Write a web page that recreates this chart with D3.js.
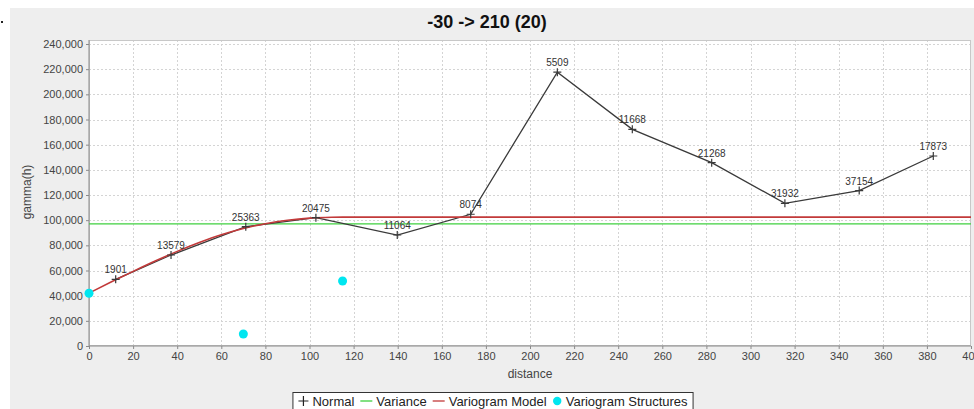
<!DOCTYPE html>
<html>
<head>
<meta charset="utf-8">
<script src="https://cdn.jsdelivr.net/npm/d3@7"></script>
<style>
  html, body { margin: 0; padding: 0; background: #ffffff; }
  svg { display: block; font-family: Arial, "Liberation Sans", Helvetica, sans-serif; }
</style>
</head>
<body>
<svg id="chart" width="974" height="409"></svg>
<script>
// ---- data ----
const title = "-30 -> 210 (20)";
const xLabel = "distance";
const yLabel = "gamma(h)";
const xTicks = [0, 20, 40, 60, 80, 100, 120, 140, 160, 180, 200, 220, 240, 260, 280, 300, 320, 340, 360, 380, 400];
const yTicks = [0, 20000, 40000, 60000, 80000, 100000, 120000, 140000, 160000, 180000, 200000, 220000, 240000];

// Normal (experimental variogram) points and pair counts
const normalDist  = [12.1, 37.2, 71.1, 102.9, 139.8, 173.1, 212.4, 246.4, 282.4, 315.6, 349.3, 382.9];
const normalGamma = [53000, 72300, 94800, 102000, 88200, 104700, 217600, 172200, 145700, 113400, 123500, 151000];
const pairCounts  = ["1901", "13579", "25363", "20475", "11064", "8074", "5509", "11668", "21268", "31932", "37154", "17873"];

// Variance (horizontal line)
const varianceValue = 97000;

// Variogram model curve
const modelDist  = [0, 10, 20, 30, 40, 50, 60, 70, 80, 90, 100, 110, 115, 400];
const modelGamma = [42000, 50800, 59300, 67500, 75200, 82200, 88400, 93400, 97200, 99900, 101600, 102300, 102400, 102400];

// Variogram structures
const structDist  = [0, 70, 115];
const structGamma = [41900, 9500, 51700];

const legendItems = ["Normal", "Variance", "Variogram Model", "Variogram Structures"];

// ---- layout ----
const svg = d3.select("#chart");
const plot = { left: 89, right: 971, top: 40, bottom: 346 };

const x = d3.scaleLinear().domain([0, 400]).range([plot.left, plot.right]);
const y = d3.scaleLinear().domain([0, 240000]).range([plot.bottom, 44]);

const colors = {
  normal: "#3a3a3a",
  variance: "#3fd03f",
  model: "#c23a3a",
  struct: "#00e6f0"
};

// outer background
svg.append("rect").attr("x", 0).attr("y", 0).attr("width", 974).attr("height", 409).attr("fill", "#ffffff");
svg.append("rect").attr("x", 10).attr("y", 8).attr("width", 964).attr("height", 401).attr("fill", "#eeeeee");
svg.append("rect").attr("x", 1).attr("y", 21).attr("width", 2).attr("height", 2).attr("fill", "#222");

// title
svg.append("text").attr("x", 487).attr("y", 28).attr("text-anchor", "middle")
  .attr("font-size", 18).attr("font-weight", "bold").attr("fill", "#111").text(title);

// plot background
svg.append("rect").attr("x", plot.left).attr("y", plot.top)
  .attr("width", plot.right - plot.left).attr("height", plot.bottom - plot.top)
  .attr("fill", "#ffffff");

// gridlines
const grid = svg.append("g").attr("stroke", "#d4d4d4").attr("stroke-width", 1).attr("stroke-dasharray", "2,2");
xTicks.filter(t => t > 0 && t < 400).forEach(t => {
  grid.append("line").attr("x1", Math.round(x(t)) + 0.5).attr("x2", Math.round(x(t)) + 0.5)
    .attr("y1", plot.top).attr("y2", plot.bottom);
});
yTicks.filter(t => t > 0).forEach(t => {
  grid.append("line").attr("x1", plot.left).attr("x2", plot.right)
    .attr("y1", Math.round(y(t)) + 0.5).attr("y2", Math.round(y(t)) + 0.5);
});

// plot border
svg.append("rect").attr("x", plot.left + 0.5).attr("y", plot.top + 0.5)
  .attr("width", plot.right - plot.left - 1).attr("height", plot.bottom - plot.top - 1)
  .attr("fill", "none").attr("stroke", "#c8c8c8");

// axes
const xAxis = d3.axisBottom(x).tickValues(xTicks).tickSize(3).tickPadding(3).tickFormat(d3.format("d"));
const gx = svg.append("g").attr("transform", `translate(0,${plot.bottom})`).call(xAxis);
const yAxis = d3.axisLeft(y).tickValues(yTicks).tickSize(3).tickPadding(3).tickFormat(d3.format(","));
const gy = svg.append("g").attr("transform", `translate(${plot.left},0)`).call(yAxis);
[gx, gy].forEach(g => {
  g.select(".domain").attr("stroke", "#8a8a8a");
  g.selectAll(".tick line").attr("stroke", "#8a8a8a");
  g.selectAll(".tick text").attr("fill", "#444").attr("font-size", 11)
    .attr("font-family", "Arial, 'Liberation Sans', sans-serif");
});
gy.select(".domain").attr("d", `M0,${plot.bottom}V${plot.top}`);
gx.select(".domain").attr("d", `M${plot.left},0H${plot.right}`);

// axis labels
svg.append("text").attr("x", (plot.left + plot.right) / 2).attr("y", 378)
  .attr("text-anchor", "middle").attr("font-size", 12).attr("fill", "#444").text(xLabel);
svg.append("text").attr("transform", "translate(31,192) rotate(-90)")
  .attr("text-anchor", "middle").attr("font-size", 12).attr("fill", "#444").text(yLabel);

// variance
svg.append("line").attr("x1", plot.left).attr("x2", plot.right)
  .attr("y1", y(varianceValue)).attr("y2", y(varianceValue))
  .attr("stroke", colors.variance).attr("stroke-width", 1.3);

// normal series
const normalData = normalDist.map((d, i) => ({ d, g: normalGamma[i], n: pairCounts[i] }));
svg.append("path").datum(normalData)
  .attr("d", d3.line().x(p => x(p.d)).y(p => y(p.g)))
  .attr("fill", "none").attr("stroke", colors.normal).attr("stroke-width", 1.3);

// model
const modelData = modelDist.map((d, i) => ({ d, g: modelGamma[i] }));
svg.append("path").datum(modelData)
  .attr("d", d3.line().x(p => x(p.d)).y(p => y(p.g)).curve(d3.curveMonotoneX))
  .attr("fill", "none").attr("stroke", colors.model).attr("stroke-width", 1.6);

// crosses
const cs = 4;
const crosses = svg.append("g").attr("stroke", colors.normal).attr("stroke-width", 1.2);
normalData.forEach(p => {
  const px = x(p.d), py = y(p.g);
  crosses.append("path").attr("d", `M${px - cs},${py}H${px + cs}M${px},${py - cs}V${py + cs}`);
});

// pair count labels
svg.append("g").selectAll("text").data(normalData).join("text")
  .attr("x", p => x(p.d)).attr("y", p => y(p.g) - 6)
  .attr("text-anchor", "middle").attr("font-size", 10).attr("fill", "#333")
  .text(p => p.n);

// structures
svg.append("g").selectAll("circle").data(structDist.map((d, i) => ({ d, g: structGamma[i] }))).join("circle")
  .attr("cx", p => x(p.d)).attr("cy", p => y(p.g)).attr("r", 4.5)
  .attr("fill", colors.struct);

// legend
const lg = svg.append("g");
const fs = 13;
let cx = 0;
const parts = [];
legendItems.forEach((name, i) => {
  const item = lg.append("g");
  let symW;
  if (i === 0) {
    item.append("path").attr("d", `M0,0H10M5,-5V5`).attr("stroke", "#222").attr("stroke-width", 1.2);
    symW = 10;
  } else if (i === 1 || i === 2) {
    item.append("line").attr("x1", 0).attr("x2", 12).attr("y1", 0).attr("y2", 0)
      .attr("stroke", i === 1 ? colors.variance : colors.model).attr("stroke-width", 1.3);
    symW = 12;
  } else {
    item.append("circle").attr("cx", 4.5).attr("cy", 0).attr("r", 4.2).attr("fill", colors.struct);
    symW = 9;
  }
  const t = item.append("text").attr("x", symW + 4).attr("y", 4.5).attr("font-size", fs)
    .attr("fill", "#222").text(name);
  const w = symW + 4 + t.node().getComputedTextLength();
  parts.push({ item, x: cx });
  cx += w + 6;
});
const totalW = cx - 6;
const lx0 = 493 - totalW / 2;
parts.forEach(p => p.item.attr("transform", `translate(${lx0 + p.x},401)`));
lg.insert("rect", ":first-child").attr("x", lx0 - 5.5).attr("y", 392.5)
  .attr("width", totalW + 11).attr("height", 22)
  .attr("fill", "#ffffff").attr("stroke", "#333").attr("stroke-width", 1);
</script>
</body>
</html>
